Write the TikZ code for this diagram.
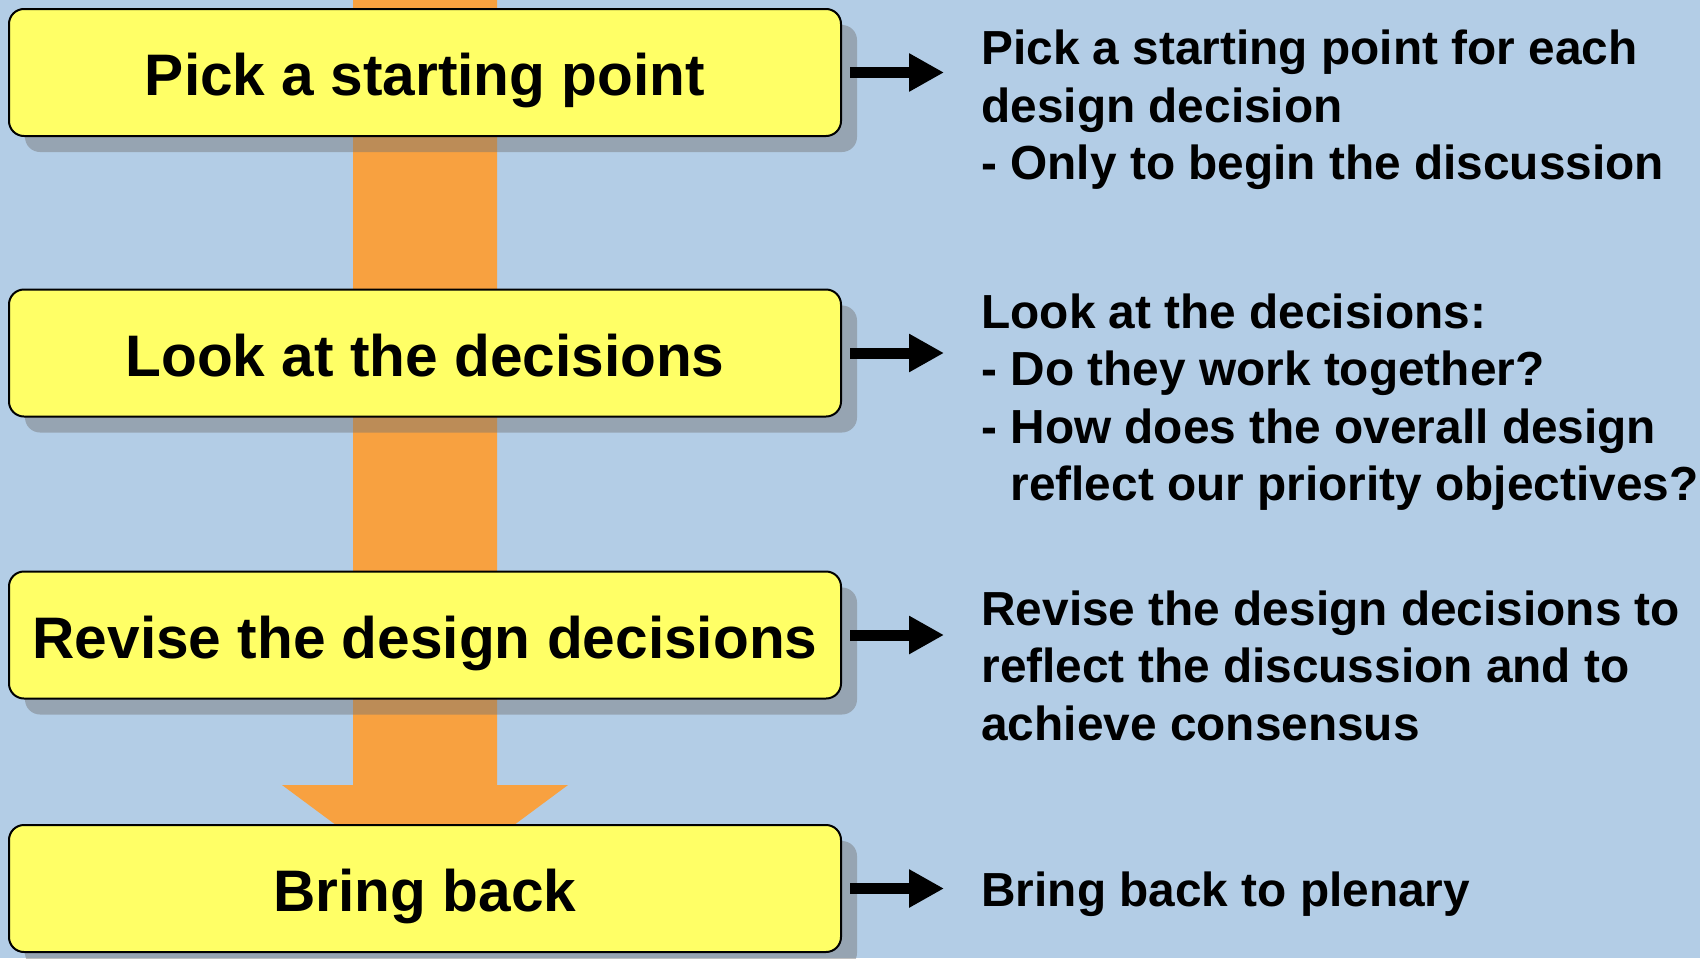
\documentclass[tikz,border=0pt]{standalone}
\usepackage{fontspec}
\setmainfont{Liberation Sans}
\usetikzlibrary{arrows.meta,shadows}

\definecolor{bgblue}{RGB}{179,205,230}
\definecolor{stepyellow}{RGB}{255,255,102}
\definecolor{floworange}{RGB}{248,161,64}

\begin{document}
\begin{tikzpicture}[x=0.5pt,y=-0.5pt,
  stepbox/.style={draw,line width=1pt,fill=stepyellow,rounded corners=7.5pt,
    minimum width=416pt,minimum height=63.5pt,inner sep=0pt,
    text height=23.2pt,text depth=0pt,
    font=\bfseries\fontsize{29.3}{35}\selectfont,
    drop shadow={shadow xshift=8pt,shadow yshift=-8pt,fill=black!55,opacity=0.45}},
  notetext/.style={anchor=base west,inner sep=0pt,align=left,
    font=\bfseries\fontsize{23.9}{28.75}\selectfont},
  smallarrow/.style={line width=5.5pt,-{Triangle[length=17.5pt,width=18pt]},shorten <=4pt}]

%Background
\path[use as bounding box,fill=bgblue] (0,0) rectangle (1700,958);

%Big flow arrow
\fill[floworange] (353,0) -- (497,0) -- (497,785) -- (568,785) -- (425,891)
  -- (282,785) -- (353,785) -- cycle;

%Step boxes
\node[stepbox] (pick) at (425,72.5) {Pick a starting point};
\node[stepbox] (look) at (425,353) {Look at the decisions};
\node[stepbox] (revise) at (425,635) {Revise the design decisions};
\node[stepbox] (bring) at (425,888.5) {Bring back};

%Arrow ends
\coordinate (pickend) at (944,72.5);
\coordinate (lookend) at (944,353);
\coordinate (reviseend) at (944,635);
\coordinate (bringend) at (944,888.5);

\draw[smallarrow] (pick) -- (pickend);
\draw[smallarrow] (look) -- (lookend);
\draw[smallarrow] (revise) -- (reviseend);
\draw[smallarrow] (bring) -- (bringend);

% Text Node (anchored on last line)
\node[notetext] (picknote) at (981,179.5) {Pick a starting point for each\\design decision\\- Only to begin the discussion};
% Text Node
\node[notetext] (looknote) at (981,500.5) {Look at the decisions:\\- Do they work together?\\- How does the overall design\\\hphantom{- }reflect our priority objectives?};
% Text Node
\node[notetext] (revisenote) at (981,740) {Revise the design decisions to\\reflect the discussion and to\\achieve consensus};
% Text Node
\node[notetext] (bringnote) at (981,906) {Bring back to plenary};

\end{tikzpicture}
\end{document}
